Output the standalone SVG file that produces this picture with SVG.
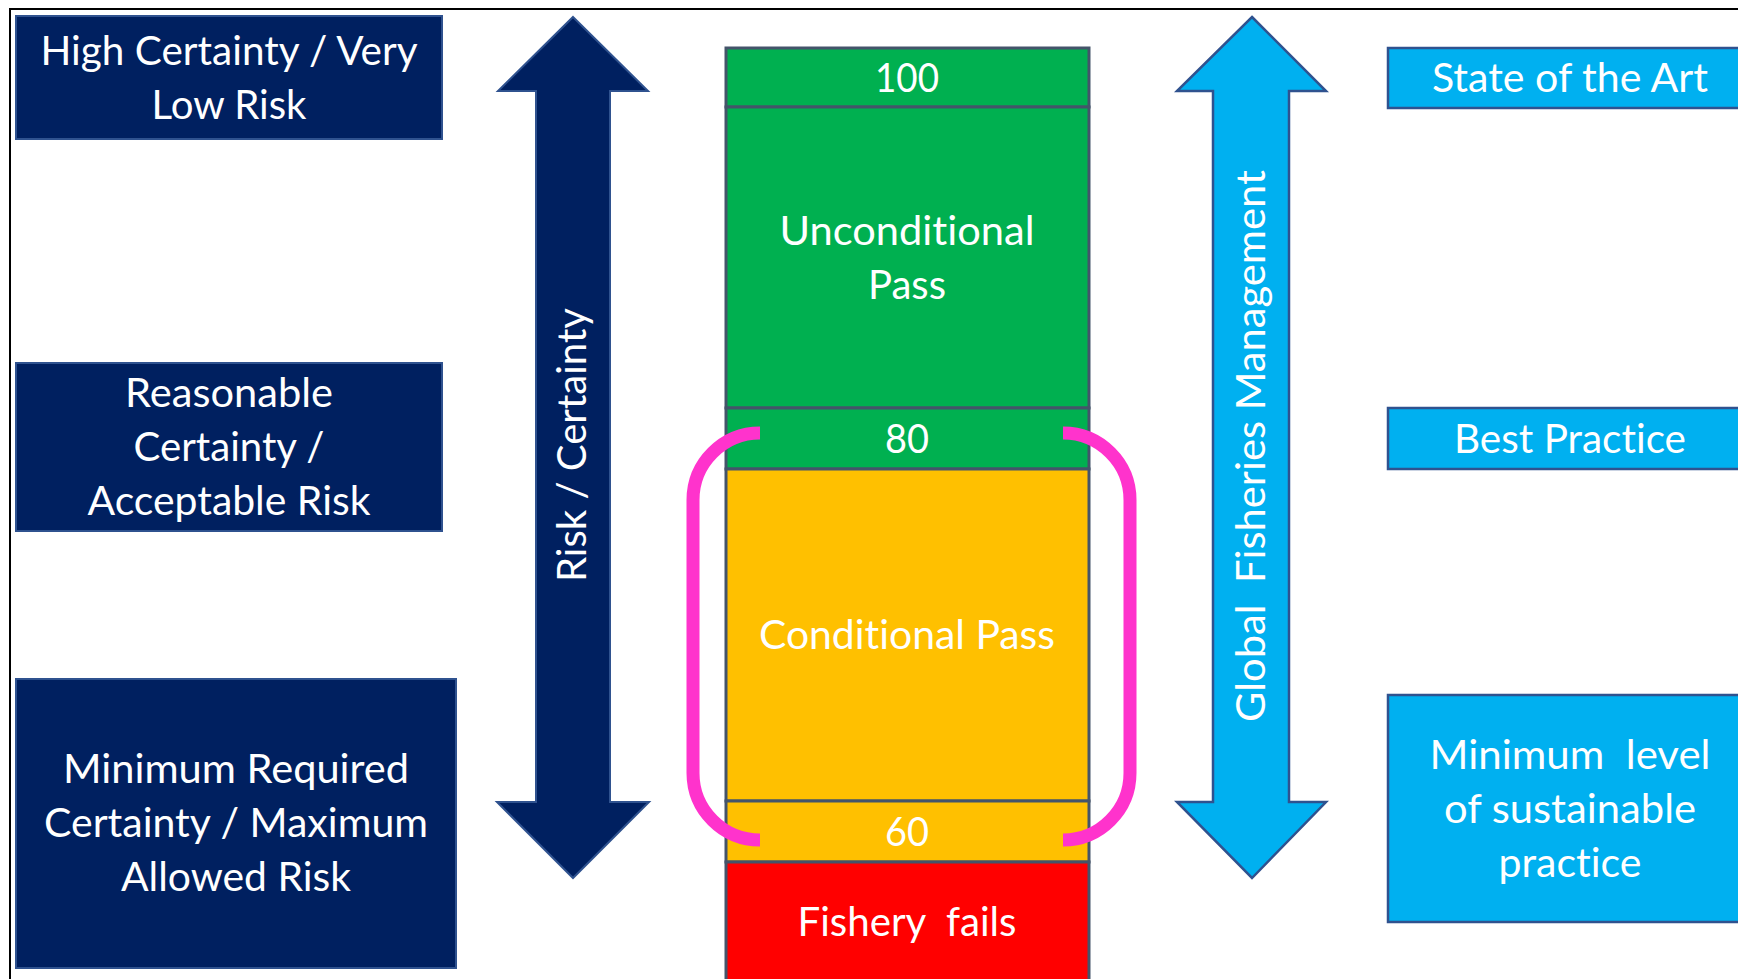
<svg xmlns="http://www.w3.org/2000/svg" width="1738" height="979" viewBox="0 0 1738 979">
  <style>
    .lbl { font-family: Lato, "Open Sans", "Liberation Sans", sans-serif; font-size: 40px; fill: #ffffff; text-anchor: middle; font-variant-ligatures: none; font-feature-settings: "liga" 0, "clig" 0; }
    .navy { fill: #002060; stroke: #2F528F; stroke-width: 2; }
    .sky { fill: #00B0F0; stroke: #2F528F; stroke-width: 2.5; }
    .cell { stroke: #44546A; stroke-width: 3; }
    .bracket { fill: none; stroke: #FF33CC; stroke-width: 13; }
  </style>

  <rect width="1738" height="979" fill="#ffffff"/>
  <!-- outer frame (runs past the right and bottom edges) -->
  <rect x="10" y="9" width="1760" height="1000" fill="none" stroke="#000000" stroke-width="2"/>

  <!-- left certainty boxes -->
  <g id="box-high-certainty">
    <rect class="navy" x="16" y="16" width="426" height="123"/>
    <text class="lbl" x="229" y="65" textLength="377" lengthAdjust="spacingAndGlyphs">High Certainty / Very</text>
    <text class="lbl" x="229" y="119" textLength="155" lengthAdjust="spacingAndGlyphs">Low Risk</text>
  </g>
  <g id="box-reasonable-certainty">
    <rect class="navy" x="16" y="363" width="426" height="168"/>
    <text class="lbl" x="229" y="407" textLength="208" lengthAdjust="spacingAndGlyphs">Reasonable</text>
    <text class="lbl" x="229" y="461" textLength="191" lengthAdjust="spacingAndGlyphs">Certainty /</text>
    <text class="lbl" x="229" y="515" textLength="283" lengthAdjust="spacingAndGlyphs">Acceptable Risk</text>
  </g>
  <g id="box-minimum-certainty">
    <rect class="navy" x="16" y="679" width="440" height="289"/>
    <text class="lbl" x="236" y="783" textLength="346" lengthAdjust="spacingAndGlyphs">Minimum Required</text>
    <text class="lbl" x="236" y="837" textLength="384" lengthAdjust="spacingAndGlyphs">Certainty / Maximum</text>
    <text class="lbl" x="236" y="891" textLength="230" lengthAdjust="spacingAndGlyphs">Allowed Risk</text>
  </g>

  <!-- risk / certainty double arrow -->
  <g id="arrow-risk-certainty">
    <polygon class="navy" points="573,17 648,91 610,91 610,802 649,802 573,878 497,802 536,802 536,91 498,91"/>
    <text class="lbl" transform="translate(586,445) rotate(-90)" textLength="274" lengthAdjust="spacingAndGlyphs">Risk / Certainty</text>
  </g>

  <!-- score column -->
  <g id="score-column">
    <g id="cell-100">
      <rect class="cell" x="726" y="48" width="363" height="59" fill="#00B050"/>
      <text class="lbl" x="907" y="92" textLength="64" lengthAdjust="spacingAndGlyphs">100</text>
    </g>
    <g id="cell-unconditional">
      <rect class="cell" x="726" y="107" width="363" height="301" fill="#00B050"/>
      <text class="lbl" x="907" y="245" textLength="255" lengthAdjust="spacingAndGlyphs">Unconditional</text>
      <text class="lbl" x="907" y="299" textLength="78" lengthAdjust="spacingAndGlyphs">Pass</text>
    </g>
    <g id="cell-80">
      <rect class="cell" x="726" y="408" width="363" height="61" fill="#00B050"/>
      <text class="lbl" x="907" y="453" textLength="44" lengthAdjust="spacingAndGlyphs">80</text>
    </g>
    <g id="cell-conditional">
      <rect class="cell" x="726" y="469" width="363" height="332" fill="#FFC000"/>
      <text class="lbl" x="907" y="649" textLength="296" lengthAdjust="spacingAndGlyphs">Conditional Pass</text>
    </g>
    <g id="cell-60">
      <rect class="cell" x="726" y="801" width="363" height="61" fill="#FFC000"/>
      <text class="lbl" x="907" y="846" textLength="44" lengthAdjust="spacingAndGlyphs">60</text>
    </g>
    <g id="cell-fails">
      <rect class="cell" x="726" y="862" width="363" height="130" fill="#FF0000"/>
      <text class="lbl" x="907" y="936" textLength="219" lengthAdjust="spacingAndGlyphs" xml:space="preserve">Fishery  fails</text>
    </g>
  </g>

  <!-- brackets around the conditional band -->
  <g id="brackets">
    <path class="bracket" d="M760,433 A67,67 0 0 0 693,500 V773 A67,67 0 0 0 760,840"/>
    <path class="bracket" d="M1063,433 A67,67 0 0 1 1130,500 V773 A67,67 0 0 1 1063,840"/>
  </g>

  <!-- fisheries management double arrow -->
  <g id="arrow-fisheries-management">
    <polygon class="sky" points="1252,17 1326,91 1289,91 1289,802 1326,802 1252,878 1177,802 1213,802 1213,91 1177,91"/>
    <text class="lbl" transform="translate(1265,446) rotate(-90)" textLength="552" lengthAdjust="spacingAndGlyphs" xml:space="preserve">Global  Fisheries Management</text>
  </g>

  <!-- right practice boxes -->
  <g id="box-state-of-the-art">
    <rect class="sky" x="1388" y="48" width="380" height="60"/>
    <text class="lbl" x="1570" y="92" textLength="276" lengthAdjust="spacingAndGlyphs">State of the Art</text>
  </g>
  <g id="box-best-practice">
    <rect class="sky" x="1388" y="408" width="380" height="61"/>
    <text class="lbl" x="1570" y="453" textLength="232" lengthAdjust="spacingAndGlyphs">Best Practice</text>
  </g>
  <g id="box-minimum-level">
    <rect class="sky" x="1388" y="695" width="380" height="227"/>
    <text class="lbl" x="1570" y="769" textLength="281" lengthAdjust="spacingAndGlyphs" xml:space="preserve">Minimum  level</text>
    <text class="lbl" x="1570" y="823" textLength="252" lengthAdjust="spacingAndGlyphs">of sustainable</text>
    <text class="lbl" x="1570" y="877" textLength="143" lengthAdjust="spacingAndGlyphs">practice</text>
  </g>
</svg>
